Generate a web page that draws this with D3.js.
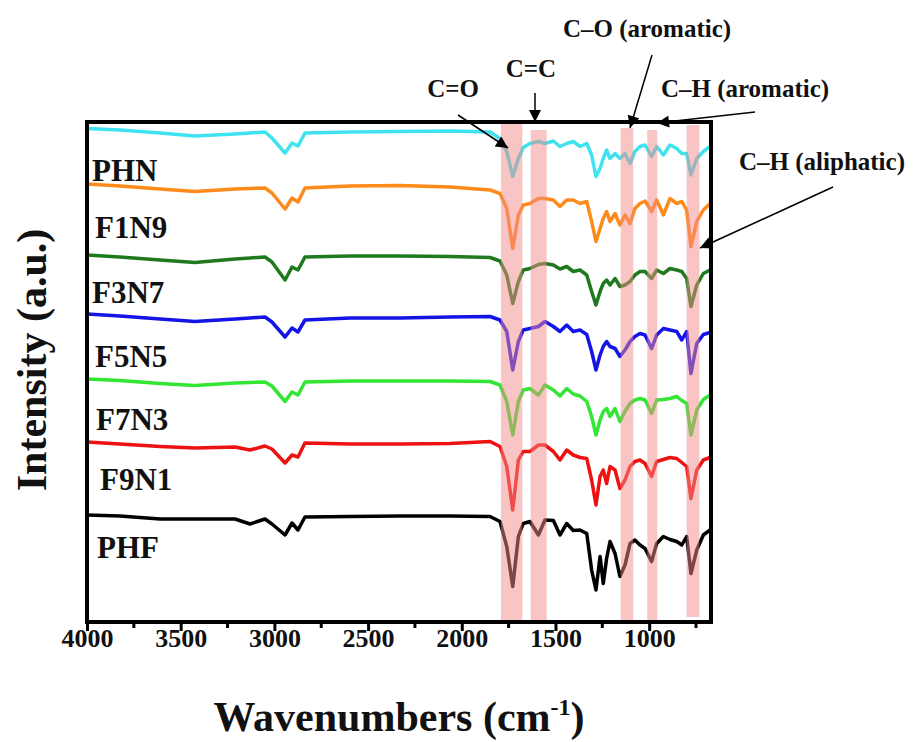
<!DOCTYPE html>
<html>
<head>
<meta charset="utf-8">
<script src="https://cdn.jsdelivr.net/npm/d3@7"></script>
<style>
  body { margin: 0; background: #fff; }
  text { font-family: "Liberation Serif", "Times New Roman", serif; font-weight: bold; }
</style>
</head>
<body>
<svg id="chart" width="916" height="742"></svg>
<script>
// wavenumbers (cm-1) shared by every spectrum
var wavenumbers = [4000, 3824, 3610, 3424, 3210, 3130, 3050, 3013, 2943, 2906, 2874, 2837, 2596, 2330, 2063,
    1849, 1796, 1760, 1728, 1698, 1672, 1636, 1591, 1556, 1511, 1476, 1440, 1405, 1369, 1333, 1307, 1284,
    1262, 1245, 1227, 1209, 1182, 1156, 1129, 1102, 1076, 1049, 1022, 987, 960, 924, 889, 853, 826, 800,
    777, 746, 711, 675];

// stacked intensities (a.u.)
var phn = [98.7, 98.4, 97.8, 97.2, 97.6, 97.8, 98.0, 96.8, 93.8, 95.8, 95.2, 97.8, 98.0, 98.1, 98.2,
    98.0, 96.7, 94.1, 89.1, 92.7, 94.9, 95.7, 96.1, 95.7, 96.2, 95.1, 95.7, 96.1, 95.1, 95.7, 93.4, 89.1,
    90.7, 92.7, 94.4, 92.7, 93.7, 92.7, 93.7, 91.7, 94.1, 95.1, 95.4, 93.1, 95.1, 93.4, 95.4, 94.7, 93.7, 93.7,
    89.4, 92.7, 94.1, 95.1];
var f1n9 = [87.6, 87.2, 86.6, 86.1, 86.6, 86.7, 86.8, 85.8, 82.6, 84.8, 84.0, 86.8, 87.2, 87.3, 87.0,
    86.4, 85.7, 82.7, 74.7, 81.4, 83.4, 83.7, 84.7, 84.7, 84.4, 83.1, 84.4, 84.4, 83.7, 84.1, 80.1, 76.1,
    78.7, 80.7, 82.1, 80.1, 81.7, 79.4, 81.4, 79.7, 82.7, 83.7, 84.2, 82.1, 84.4, 81.4, 84.7, 83.7, 84.1, 82.4,
    75.1, 80.1, 82.4, 83.7];
var f3n7 = [73.4, 73.0, 72.4, 71.9, 72.6, 72.8, 73.0, 72.0, 68.4, 71.0, 70.4, 73.0, 73.2, 73.2, 73.1,
    72.9, 72.2, 69.4, 63.7, 68.1, 70.4, 70.7, 71.5, 71.7, 71.4, 70.6, 71.1, 70.1, 70.4, 69.4, 66.1, 63.4,
    66.1, 67.7, 68.4, 67.4, 68.7, 67.1, 67.4, 68.1, 69.4, 70.1, 70.1, 68.7, 70.4, 69.7, 70.7, 70.4, 70.1, 68.7,
    63.1, 67.4, 69.7, 70.4];
var f5n5 = [61.6, 61.2, 60.6, 60.1, 60.6, 60.8, 61.0, 60.0, 57.0, 58.8, 58.0, 60.4, 60.8, 60.8, 61.0,
    61.1, 60.4, 58.1, 50.4, 56.1, 58.4, 58.7, 59.1, 60.1, 59.1, 58.1, 59.4, 58.1, 58.4, 57.5, 54.1, 50.4,
    53.4, 55.1, 56.1, 55.1, 54.7, 53.1, 54.4, 56.1, 57.1, 57.7, 57.4, 54.7, 57.4, 58.7, 58.4, 58.1, 56.4, 58.1,
    49.7, 55.7, 57.5, 57.9];
var f7n3 = [48.6, 48.3, 47.7, 47.3, 47.8, 47.9, 48.0, 47.2, 44.1, 46.0, 45.4, 48.0, 48.2, 48.2, 48.2,
    48.1, 47.4, 44.1, 37.4, 44.1, 46.4, 46.7, 45.4, 47.4, 46.4, 45.2, 46.7, 45.6, 45.2, 44.1, 41.1, 37.4,
    40.4, 42.1, 42.7, 41.1, 42.7, 40.1, 42.1, 43.7, 44.4, 44.7, 44.4, 41.7, 44.4, 44.5, 44.7, 45.1, 44.3, 43.7,
    37.4, 42.4, 44.5, 45.4];
var f9n1 = [36.0, 35.6, 35.1, 34.8, 35.0, 34.4, 35.2, 34.6, 31.8, 33.4, 33.0, 35.8, 35.6, 35.6, 35.7,
    36.1, 35.1, 31.1, 22.4, 32.4, 34.1, 34.1, 35.4, 35.4, 34.1, 32.4, 34.4, 33.4, 32.9, 32.7, 28.4, 23.4,
    29.1, 30.4, 27.7, 31.1, 30.4, 26.7, 28.4, 31.1, 32.1, 32.4, 31.7, 29.1, 32.1, 32.5, 32.9, 32.7, 31.9, 31.1,
    24.7, 30.4, 32.4, 32.9];
var phf = [21.4, 21.2, 20.6, 20.6, 20.6, 19.6, 20.6, 19.6, 17.4, 19.8, 18.4, 21.0, 21.1, 21.2, 21.2,
    21.1, 20.1, 15.1, 7.1, 17.1, 19.7, 20.1, 17.4, 20.4, 20.3, 17.4, 19.7, 18.3, 18.4, 17.7, 10.4, 6.4,
    13.1, 7.7, 12.7, 16.1, 13.7, 9.1, 11.4, 15.7, 16.4, 15.4, 14.7, 12.1, 15.7, 17.1, 16.5, 16.1, 15.4, 17.1,
    9.7, 14.4, 17.4, 18.4];

var seriesNames = ["PHN", "F1N9", "F3N7", "F5N5", "F7N3", "F9N1", "PHF"];
var seriesValues = [phn, f1n9, f3n7, f5n5, f7n3, f9n1, phf];
var seriesColors = ["#3fe3ef", "#ff8a1c", "#1f7a1f", "#1414e6", "#33e633", "#ee1111", "#000000"];

var xTicks = [4000, 3500, 3000, 2500, 2000, 1500, 1000];
var xMinorTicks = [3750, 3250, 2750, 2250, 1750, 1250, 750];

// highlighted absorption bands (cm-1)
var bandRanges = [[1791, 1677], [1632, 1547], [1152, 1085], [1010, 957], [800, 732]];
var bandNames = ["C=O", "C=C", "C\u2013O (aromatic)", "C\u2013H (aromatic)", "C\u2013H (aliphatic)"];

function init() {
    var svg = d3.select("#chart");
    var left = 87, right = 711, top = 122, bottom = 622;

    var xScale = d3.scaleLinear().domain([4000, 670]).range([left, right]);
    var yScale = d3.scaleLinear().domain([0, 100]).range([bottom, top]);

    // spectra
    var line = d3.line()
        .x(function(d) { return xScale(d[0]); })
        .y(function(d) { return yScale(d[1]); });

    svg.append("g").selectAll("path")
        .data(seriesValues)
        .enter()
        .append("path")
        .attr("d", function(vals) { return line(d3.zip(wavenumbers, vals)); })
        .attr("fill", "none")
        .attr("stroke", function(d, i) { return seriesColors[i]; })
        .attr("stroke-width", 3.5)
        .attr("stroke-linejoin", "round");

    // pink bands drawn on top of the curves
    var bandTops = [top, 130, 128, 130, 125];
    var bandBottoms = [bottom, bottom, bottom, bottom, 617];
    svg.append("g").selectAll("rect")
        .data(bandRanges)
        .enter()
        .append("rect")
        .attr("x", function(d) { return xScale(d[0]); })
        .attr("width", function(d) { return xScale(d[1]) - xScale(d[0]); })
        .attr("y", function(d, i) { return bandTops[i]; })
        .attr("height", function(d, i) { return bandBottoms[i] - bandTops[i]; })
        .attr("fill", "#f28a8a")
        .attr("fill-opacity", 0.5);

    // series labels
    var labelPos = [[92, 181], [95, 238], [92, 303], [95, 367], [96, 430], [100, 490], [97, 558]];
    svg.append("g").selectAll("text")
        .data(seriesNames)
        .enter()
        .append("text")
        .attr("x", function(d, i) { return labelPos[i][0]; })
        .attr("y", function(d, i) { return labelPos[i][1]; })
        .attr("font-size", 31)
        .attr("fill", "#111")
        .text(function(d) { return d; });

    // bottom axis
    var xAxis = d3.axisBottom(xScale)
        .tickValues(xTicks)
        .tickSize(9)
        .tickFormat(d3.format("d"));
    var gx = svg.append("g")
        .attr("transform", "translate(0," + bottom + ")")
        .call(xAxis);
    gx.select(".domain").remove();
    gx.selectAll(".tick line").attr("stroke", "#000").attr("stroke-width", 3);
    gx.selectAll(".tick text")
        .attr("font-size", 26)
        .attr("font-family", "Liberation Serif, serif")
        .attr("font-weight", "bold")
        .attr("fill", "#111")
        .attr("dy", "0.5em");

    svg.append("g").selectAll("line")
        .data(xMinorTicks)
        .enter()
        .append("line")
        .attr("x1", function(d) { return xScale(d); })
        .attr("x2", function(d) { return xScale(d); })
        .attr("y1", bottom)
        .attr("y2", bottom + 6)
        .attr("stroke", "#000")
        .attr("stroke-width", 3);

    // frame
    svg.append("rect")
        .attr("x", left).attr("y", top)
        .attr("width", right - left).attr("height", bottom - top)
        .attr("fill", "none")
        .attr("stroke", "#000")
        .attr("stroke-width", 4);

    // axis titles
    var xt = svg.append("text")
        .attr("x", 399).attr("y", 731)
        .attr("text-anchor", "middle")
        .attr("font-size", 42)
        .attr("fill", "#111");
    xt.append("tspan").text("Wavenumbers (cm");
    xt.append("tspan").attr("font-size", 24).attr("dy", -16).text("-1");
    xt.append("tspan").attr("dy", 16).text(")");

    svg.append("text")
        .attr("transform", "translate(46,360) rotate(-90)")
        .attr("text-anchor", "middle")
        .attr("font-size", 42)
        .attr("fill", "#111")
        .text("Intensity (a.u.)");

    // annotation arrows
    svg.append("defs").append("marker")
        .attr("id", "head")
        .attr("viewBox", "0 0 10 10")
        .attr("refX", 10).attr("refY", 5)
        .attr("markerWidth", 15).attr("markerHeight", 12)
        .attr("markerUnits", "userSpaceOnUse")
        .attr("orient", "auto")
        .append("path")
        .attr("d", "M0,0L10,5L0,10Z")
        .attr("fill", "#000");

    var arrows = [[458, 115, 508, 148], [535, 93, 535, 122], [652, 55, 630, 128],
                  [755, 112, 657, 123], [833, 187, 700, 248]];
    svg.append("g").selectAll("line")
        .data(arrows)
        .enter()
        .append("line")
        .attr("x1", function(d) { return d[0]; })
        .attr("y1", function(d) { return d[1]; })
        .attr("x2", function(d) { return d[2]; })
        .attr("y2", function(d) { return d[3]; })
        .attr("stroke", "#000")
        .attr("stroke-width", 1.5)
        .attr("marker-end", "url(#head)");

    var notePos = [[453, 97], [531, 77], [647, 37], [745, 97], [822, 170]];
    svg.append("g").selectAll("text")
        .data(bandNames)
        .enter()
        .append("text")
        .attr("x", function(d, i) { return notePos[i][0]; })
        .attr("y", function(d, i) { return notePos[i][1]; })
        .attr("text-anchor", "middle")
        .attr("font-size", 25)
        .attr("fill", "#111")
        .text(function(d) { return d; });
}

window.onload = init;
</script>
</body>
</html>
